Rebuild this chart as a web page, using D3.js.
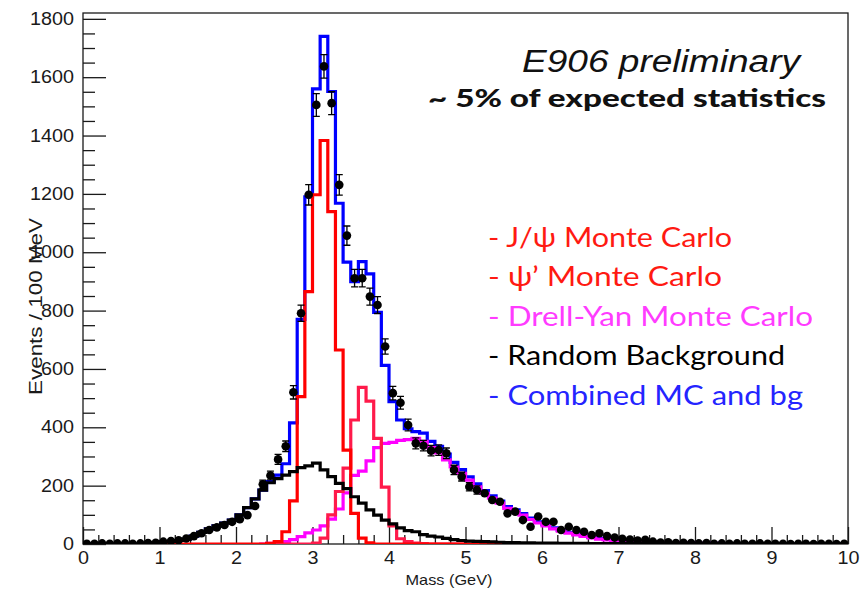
<!DOCTYPE html>
<html>
<head>
<meta charset="utf-8">
<script src="https://cdn.jsdelivr.net/npm/d3@7"></script>
<style>
  html, body { margin: 0; padding: 0; background: #fff; }
  svg { display: block; }
</style>
</head>
<body>
<svg id="chart" width="861" height="592"></svg>
<script>
// Dimuon mass spectrum, 100 MeV bins from 0 to 10 GeV (index i -> [i*0.1, (i+1)*0.1) GeV)
const massRange = [0, 10];
const binWidth = 0.1;

// Measured events per bin
const dataCounts = [
  1, 1, 2, 1, 2, 2, 1, 2, 3, 4,
  8, 10, 13, 19, 27, 37, 48, 57, 65, 76,
  85, 99, 130, 205, 235, 290, 335, 520, 791, 1197,
  1505, 1637, 1511, 1231, 1057, 911, 911, 848, 819, 677,
  517, 484, 408, 345, 337, 320, 322, 311, 254, 231,
  196, 185, 174, 151, 145, 105, 111, 82, 59, 94,
  76, 76, 48, 59, 48, 42, 31, 37, 27, 22,
  18, 15, 12, 14, 8, 5, 6, 3, 4, 3,
  2, 3, 1, 2, 1, 2, 1, 1, 2, 1,
  1, 1, 0, 1, 1, 0, 1, 1, 0, 1
];
// Statistical uncertainty per bin
const dataErrors = [
  1, 1, 1, 1, 1, 1, 1, 1, 2, 2,
  3, 3, 4, 4, 5, 6, 7, 8, 8, 9,
  9, 10, 11, 14, 15, 17, 18, 23, 28, 35,
  39, 40, 39, 35, 33, 30, 30, 29, 29, 26,
  23, 22, 20, 19, 18, 18, 18, 18, 16, 15,
  14, 14, 13, 12, 12, 10, 11, 9, 8, 10,
  9, 9, 7, 8, 7, 6, 6, 6, 5, 5,
  4, 4, 3, 4, 3, 2, 2, 2, 2, 2,
  1, 2, 1, 1, 1, 1, 1, 1, 1, 1,
  1, 1, 0, 1, 1, 0, 1, 1, 0, 1
];

// J/psi Monte Carlo
const jpsiMC = [
  0, 0, 0, 0, 0, 0, 0, 0, 0, 0,
  0, 0, 0, 0, 0, 0, 0, 0, 0, 0,
  0, 0, 0, 0, 2, 8, 42, 148, 505, 865,
  1197, 1383, 1139, 665, 322, 105, 20, 4, 0, 0,
  0, 0, 0, 0, 0, 0, 0, 0, 0, 0,
  0, 0, 0, 0, 0, 0, 0, 0, 0, 0,
  0, 0, 0, 0, 0, 0, 0, 0, 0, 0,
  0, 0, 0, 0, 0, 0, 0, 0, 0, 0,
  0, 0, 0, 0, 0, 0, 0, 0, 0, 0,
  0, 0, 0, 0, 0, 0, 0, 0, 0, 0
];
const jpsiSpan = [9, 55];

// psi' Monte Carlo
const psiPrimeMC = [
  0, 0, 0, 0, 0, 0, 0, 0, 0, 0,
  0, 0, 0, 0, 0, 0, 0, 0, 0, 0,
  0, 0, 0, 0, 0, 0, 0, 0, 0, 0,
  3, 20, 100, 180, 260, 425, 537, 490, 362, 195,
  62, 18, 8, 3, 1, 0, 0, 0, 0, 0,
  0, 0, 0, 0, 0, 0, 0, 0, 0, 0,
  0, 0, 0, 0, 0, 0, 0, 0, 0, 0,
  0, 0, 0, 0, 0, 0, 0, 0, 0, 0,
  0, 0, 0, 0, 0, 0, 0, 0, 0, 0,
  0, 0, 0, 0, 0, 0, 0, 0, 0, 0
];
const psiPrimeSpan = [25, 50];

// Drell-Yan Monte Carlo
const drellYanMC = [
  0, 0, 0, 0, 0, 0, 0, 0, 0, 0,
  0, 0, 0, 0, 0, 0, 0, 0, 0, 0,
  0, 0, 0, 0, 2, 4, 8, 15, 25, 38,
  48, 62, 85, 120, 175, 235, 250, 285, 330, 345,
  348, 355, 358, 362, 352, 330, 312, 288, 264, 242,
  219, 196, 174, 157, 140, 122, 111, 99, 84, 72,
  62, 52, 44, 37, 31, 26, 21, 17, 14, 12,
  10, 9, 8, 7, 6, 5, 4, 4, 3, 3,
  2, 2, 2, 1, 0, 0, 0, 0, 0, 0,
  0, 0, 0, 0, 0, 0, 0, 0, 0, 0
];
const drellYanSpan = [23, 84];

// Random (combinatoric) background
const randomBg = [
  0, 0, 0, 0, 0, 0, 0, 0, 0, 5,
  7, 8, 12, 16, 27, 40, 52, 62, 72, 82,
  100, 125, 155, 185, 210, 224, 236, 248, 262, 268,
  277, 254, 231, 208, 190, 162, 140, 117, 99, 82,
  69, 55, 46, 42, 32, 27, 24, 19, 15, 12,
  10, 9, 8, 7, 6, 5, 5, 4, 4, 3,
  3, 3, 2, 2, 2, 2, 1, 1, 1, 1,
  1, 1, 1, 1, 1, 0, 0, 0, 0, 0,
  0, 0, 0, 0, 0, 0, 0, 0, 0, 0,
  0, 0, 0, 0, 0, 0, 0, 0, 0, 0
];
const randomBgSpan = [0, 100];

// Combined MC and background
const combinedMC = [
  0, 0, 0, 0, 0, 0, 0, 0, 0, 5,
  7, 8, 12, 16, 27, 40, 52, 62, 72, 82,
  100, 125, 155, 185, 214, 236, 275, 415, 770, 1190,
  1560, 1740, 1551, 1168, 966, 899, 968, 926, 794, 612,
  488, 425, 395, 385, 380, 352, 335, 308, 280, 255,
  230, 206, 183, 165, 147, 128, 117, 104, 89, 76,
  66, 55, 47, 40, 34, 28, 23, 19, 16, 13,
  11, 10, 9, 8, 6, 5, 4, 4, 3, 3,
  2, 2, 2, 1, 0, 0, 0, 0, 0, 0,
  0, 0, 0, 0, 0, 0, 0, 0, 0, 0
];
const combinedSpan = [0, 100];

const xMajorTicks = [0, 1, 2, 3, 4, 5, 6, 7, 8, 9, 10];
const yMajorTicks = [0, 200, 400, 600, 800, 1000, 1200, 1400, 1600, 1800];

const legendItems = [
  { text: "- J/\u03c8 Monte Carlo", color: "#ff1a12", width: 244 },
  { text: "- \u03c8\u2019 Monte Carlo", color: "#ff1a12", width: 234 },
  { text: "- Drell-Yan Monte Carlo", color: "#ff3cff", width: 325 },
  { text: "- Random Background", color: "#000000", width: 297 },
  { text: "- Combined MC and bg", color: "#2424ff", width: 315 }
];

// ---------------------------------------------------------------------------
const svg = d3.select("#chart");
const frame = { left: 83, right: 848, top: 13, bottom: 544 };
const textStretch = 1.13;

const x = d3.scaleLinear().domain(massRange).range([frame.left, frame.right]);
const y = d3.scaleLinear().domain([0, 1820]).range([frame.bottom, frame.top]);

svg.append("defs").append("clipPath").attr("id", "plot-clip")
  .append("rect")
  .attr("x", frame.left).attr("y", frame.top - 2)
  .attr("width", frame.right - frame.left).attr("height", frame.bottom - frame.top + 2);

// Minor ticks
const xMinor = d3.range(massRange[0], massRange[1] + 1e-9, 0.2).filter(v => Math.abs(v - Math.round(v)) > 1e-6);
const yMinor = d3.range(0, 1801, 50).filter(v => v % 200 !== 0);

const axisStroke = "#1a1a1a";

const gx = svg.append("g").attr("transform", `translate(0,${frame.bottom})`);
gx.call(d3.axisBottom(x).tickValues(xMajorTicks).tickSize(-17).tickPadding(8).tickFormat(d3.format("d")));
gx.append("g").call(d3.axisBottom(x).tickValues(xMinor).tickSize(-9).tickFormat(""));

const gy = svg.append("g").attr("transform", `translate(${frame.left},0)`);
gy.call(d3.axisLeft(y).tickValues(yMajorTicks).tickSize(-23).tickPadding(8).tickFormat(d3.format("d")));
gy.append("g").call(d3.axisLeft(y).tickValues(yMinor).tickSize(-12).tickFormat(""));

svg.selectAll(".domain").remove();
svg.selectAll(".tick line").attr("stroke", axisStroke).attr("stroke-width", 1.3);
svg.selectAll(".tick text")
  .attr("font-family", "'Liberation Sans', Arial, Helvetica, sans-serif")
  .attr("font-size", 17.5)
  .attr("fill", "#1a1a1a");
gx.selectAll(".tick text").attr("transform", `scale(${textStretch},1)`);
gy.selectAll(".tick text").attr("transform", `scale(${textStretch},1)`);

// Frame
svg.append("rect")
  .attr("x", frame.left).attr("y", frame.top)
  .attr("width", frame.right - frame.left).attr("height", frame.bottom - frame.top)
  .attr("fill", "none").attr("stroke", axisStroke).attr("stroke-width", 1.3);

// Axis titles
svg.append("text")
  .attr("x", 449).attr("y", 585)
  .attr("text-anchor", "middle")
  .attr("font-family", "'Liberation Sans', Arial, Helvetica, sans-serif")
  .attr("font-size", 15).attr("fill", "#1a1a1a")
  .attr("textLength", 87).attr("lengthAdjust", "spacingAndGlyphs")
  .text("Mass (GeV)");

svg.append("text")
  .attr("transform", "translate(42,395) rotate(-90)")
  .attr("text-anchor", "start")
  .attr("font-family", "'Liberation Sans', Arial, Helvetica, sans-serif")
  .attr("font-size", 18.5).attr("fill", "#1a1a1a")
  .attr("textLength", 177).attr("lengthAdjust", "spacingAndGlyphs")
  .text("Events / 100 MeV");

// Histogram outlines
function histPath(values, span) {
  const pts = [];
  for (let i = span[0]; i < span[1]; i++) pts.push([massRange[0] + i * binWidth, values[i]]);
  pts.push([massRange[0] + span[1] * binWidth, values[span[1] - 1]]);
  return d3.line().x(d => x(d[0])).y(d => y(d[1])).curve(d3.curveStepAfter)(pts);
}

const plot = svg.append("g").attr("clip-path", "url(#plot-clip)");

const series = [
  { values: combinedMC, span: combinedSpan, color: "#0000ff" },
  { values: drellYanMC, span: drellYanSpan, color: "#ff00ff" },
  { values: psiPrimeMC, span: psiPrimeSpan, color: "#ff1a4a" },
  { values: jpsiMC, span: jpsiSpan, color: "#ff0000" },
  { values: randomBg, span: randomBgSpan, color: "#000000" }
];
plot.selectAll("path.hist").data(series).join("path")
  .attr("class", "hist")
  .attr("d", d => histPath(d.values, d.span))
  .attr("fill", "none")
  .attr("stroke", d => d.color)
  .attr("stroke-width", 3.2)
  .attr("stroke-linejoin", "miter");

// Data points with error bars
const points = dataCounts.map((v, i) => ({ m: massRange[0] + (i + 0.5) * binWidth, v, e: dataErrors[i] }));
const pg = plot.append("g");
const capHalf = 3.5;
pg.selectAll("path.err").data(points.filter(p => p.e * (y(0) - y(1)) > 4)).join("path")
  .attr("class", "err")
  .attr("d", p => {
    const cx = x(p.m), y1 = y(p.v + p.e), y0 = y(p.v - p.e);
    return `M${cx},${y0}V${y1}M${cx - capHalf},${y1}H${cx + capHalf}M${cx - capHalf},${y0}H${cx + capHalf}`;
  })
  .attr("stroke", "#000").attr("stroke-width", 1.3).attr("fill", "none");
pg.selectAll("circle").data(points).join("circle")
  .attr("cx", p => x(p.m)).attr("cy", p => y(p.v)).attr("r", 4.3)
  .attr("fill", "#000");

// Annotations
svg.append("text")
  .attr("x", 522).attr("y", 72)
  .attr("font-family", "'Liberation Sans', Arial, Helvetica, sans-serif")
  .attr("font-style", "italic")
  .attr("font-size", 31).attr("fill", "#111")
  .attr("textLength", 278).attr("lengthAdjust", "spacingAndGlyphs")
  .text("E906 preliminary");

svg.append("text")
  .attr("x", 428).attr("y", 107)
  .attr("font-family", "Lato, 'Open Sans', sans-serif")
  .attr("font-weight", 900)
  .attr("font-size", 25).attr("fill", "#111")
  .attr("textLength", 398).attr("lengthAdjust", "spacingAndGlyphs")
  .text("~ 5% of expected statistics");

svg.append("g").selectAll("text").data(legendItems).join("text")
  .attr("x", 488)
  .attr("y", (d, i) => 247 + i * 39.4)
  .attr("font-family", "Lato, 'Open Sans', sans-serif")
  .attr("font-size", 27)
  .attr("fill", d => d.color)
  .attr("textLength", d => d.width).attr("lengthAdjust", "spacingAndGlyphs")
  .text(d => d.text);
</script>
</body>
</html>
